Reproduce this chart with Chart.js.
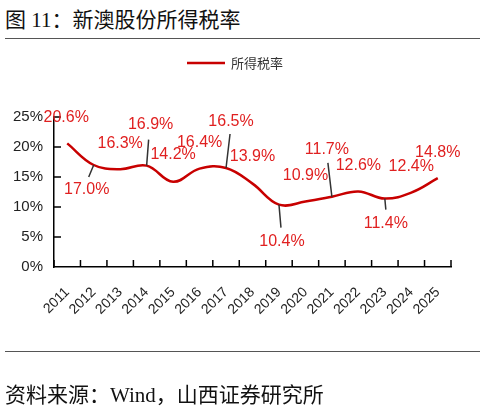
<!DOCTYPE html>
<html>
<head>
<meta charset="utf-8">
<script src="https://cdn.jsdelivr.net/npm/chart.js@4"></script>
<style>
  body { margin: 0; background: #fff; width: 485px; height: 407px; overflow: hidden; position: relative; }
  #wrap { position: absolute; left: 0; top: 0; width: 485px; height: 407px; }
  .txt { position: absolute; left: 5px; font-family: "Liberation Serif", "Noto Sans CJK SC", serif; font-size: 21px; color: #111; white-space: nowrap; }
  .rule { position: absolute; left: 5px; width: 475px; height: 0; border-top: 1.5px solid #555; }
</style>
</head>
<body>
<div class="txt" style="top:3px;">图 11：新澳股份所得税率</div>
<div class="rule" style="top:38px;"></div>
<div id="wrap"><canvas id="chart"></canvas></div>
<div class="rule" style="top:351px;"></div>
<div class="txt" style="top:378px;">资料来源：Wind，山西证券研究所</div>
<script>
// 所得税率 data
const years = ['2011', '2012', '2013', '2014', '2015', '2016', '2017', '2018',
               '2019', '2020', '2021', '2022', '2023', '2024', '2025'];
const taxRate = [20.6, 17.0, 16.3, 16.9, 14.2, 16.4, 16.5, 13.9,
                 10.4, 10.9, 11.7, 12.6, 11.4, 12.4, 14.8];
const yTicks = [0, 5, 10, 15, 20, 25];

// label placement relative to each point (text centre)
const labelDx = [-1, -7, 0, 4, 0, 0, 5, 0, 3, 0, -5, 0, 1, 0, 0];
const labelDy = [-26, 25, -26, -41, -27, -26, -46, -27, 37, -26, -47, -26, 25, -26, -26];
// leader lines: [index, dx, dy]
const leaders = [[1, -5, 12], [3, 2, -26], [6, 4, -34], [8, 2, 23], [10, -4, -34], [12, 1, 11]];

const RED = '#c80000';

const extras = {
    id: 'extras',
    afterDatasetsDraw(chart) {
        const ctx = chart.ctx;
        const xs = chart.scales.x, ys = chart.scales.y;
        const area = chart.chartArea;
        ctx.save();
        // inside tick marks
        ctx.strokeStyle = '#000';
        ctx.lineWidth = 1.5;
        const step = xs.getPixelForTick(1) - xs.getPixelForTick(0);
        ctx.beginPath();
        for (let i = 0; i <= years.length; i++) {
            const x = xs.getPixelForTick(0) - step / 2 + i * step;
            ctx.moveTo(x, area.bottom);
            ctx.lineTo(x, area.bottom - 7);
        }
        yTicks.forEach(v => {
            if (v === 0) return;
            const y = ys.getPixelForValue(v);
            ctx.moveTo(area.left, y);
            ctx.lineTo(area.left + 7, y);
        });
        ctx.stroke();

        // leader lines
        const pts = chart.getDatasetMeta(0).data;
        ctx.strokeStyle = '#333';
        ctx.lineWidth = 1.5;
        ctx.beginPath();
        leaders.forEach(([i, dx, dy]) => {
            ctx.moveTo(pts[i].x, pts[i].y);
            ctx.lineTo(pts[i].x + dx, pts[i].y + dy);
        });
        ctx.stroke();

        // value labels
        ctx.fillStyle = '#e02020';
        ctx.font = '16px "Liberation Sans", Arial, sans-serif';
        ctx.textAlign = 'center';
        ctx.textBaseline = 'middle';
        pts.forEach((p, i) => {
            ctx.fillText(taxRate[i].toFixed(1) + '%', p.x + labelDx[i], p.y + labelDy[i]);
        });

        // legend
        ctx.strokeStyle = RED;
        ctx.lineWidth = 2.5;
        ctx.beginPath();
        ctx.moveTo(187, 63);
        ctx.lineTo(225, 63);
        ctx.stroke();
        ctx.fillStyle = '#333';
        ctx.font = '13px "Noto Sans CJK SC", sans-serif';
        ctx.textAlign = 'left';
        ctx.fillText('所得税率', 231, 63);
        ctx.restore();
    }
};

new Chart(document.getElementById('chart'), {
    type: 'line',
    data: {
        labels: years,
        datasets: [{
            label: '所得税率',
            data: taxRate,
            borderColor: RED,
            borderWidth: 2.5,
            pointRadius: 0,
            tension: 0.4,
            fill: false
        }]
    },
    options: {
        responsive: true,
        maintainAspectRatio: false,
        animation: false,
        layout: { padding: { top: 117, right: 34, left: 0, bottom: 0 } },
        plugins: {
            legend: { display: false },
            tooltip: { enabled: false }
        },
        scales: {
            x: {
                offset: true,
                grid: { display: false, drawTicks: false },
                border: { color: '#000', width: 1.5 },
                ticks: {
                    color: '#222',
                    font: { family: '"Liberation Sans", Arial, sans-serif', size: 14 },
                    maxRotation: 45,
                    minRotation: 45,
                    padding: 17,
                    autoSkip: false
                },
                afterFit(scale) { scale.height = 140; }
            },
            y: {
                min: 0,
                max: 25,
                grid: { display: false, drawTicks: false },
                border: { color: '#000', width: 1.5 },
                ticks: {
                    stepSize: 5,
                    color: '#222',
                    font: { family: '"Liberation Sans", Arial, sans-serif', size: 15 },
                    padding: 11,
                    callback: v => v + '%'
                },
                afterFit(scale) { scale.width = 54; }
            }
        }
    },
    plugins: [extras]
});
</script>
</body>
</html>
